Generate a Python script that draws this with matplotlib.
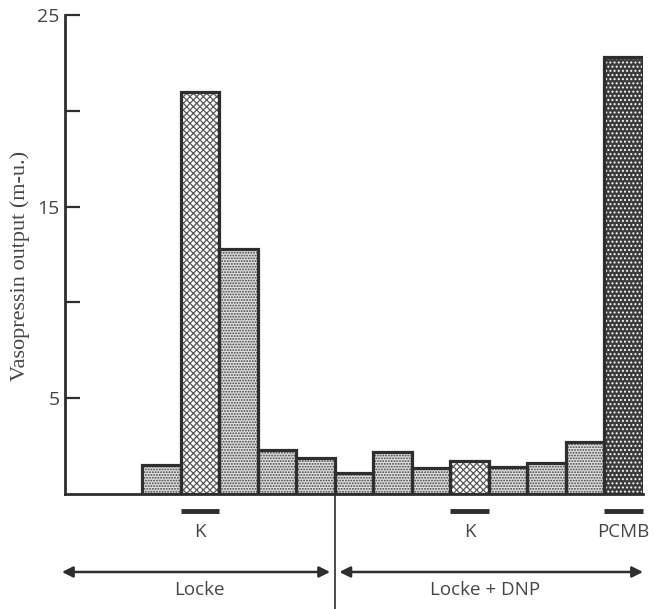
import matplotlib
matplotlib.use("Agg")
import matplotlib.pyplot as plt
from matplotlib.patches import FancyArrowPatch

# ---- data ----
values = [1.5, 21.0, 12.8, 2.3, 1.9, 1.1, 2.2, 1.35, 1.7, 1.42, 1.6, 2.7, 22.8]
fill_types = ['stipple', 'cross', 'stipple', 'stipple', 'stipple', 'stipple',
              'stipple', 'stipple', 'cross', 'stipple', 'stipple', 'stipple', 'dense']
stim_bars = [1, 8, 12]
stim_labels = ['K', 'K', 'PCMB']
phase_labels = ['Locke', 'Locke + DNP']
yticks = [5, 10, 15, 20, 25]
ytick_labels = ['5', '', '15', '', '25']
ylabel = 'Vasopressin output (m-u.)'

# ---- layout ----
W, H = 653, 609
fig = plt.figure(figsize=(W / 100, H / 100), dpi=100)
ax = fig.add_axes([65 / W, 115 / H, 578 / W, 479 / H])
ax.set_xlim(0, 15)
ax.set_ylim(0, 25)

plt.rcParams['hatch.linewidth'] = 0.9
ink = '#2e2e2e'
txt = '#454545'
styles = {
    'stipple': dict(face='#e0e0e0', hatch='......', hcol='#3f3f3f'),
    'cross': dict(face='white', hatch='xxxxx', hcol='#5a5a5a'),
    'dense': dict(face='#3c3c3c', hatch='....', hcol='white'),
}
offset = 2.5
for i, (v, ft) in enumerate(zip(values, fill_types)):
    st = styles[ft]
    x = i + offset
    ax.bar(x, v, width=1, color=st['face'], hatch=st['hatch'],
           edgecolor=st['hcol'], linewidth=0, zorder=2)
    ax.bar(x, v, width=1, fill=False, edgecolor=ink, linewidth=2.3, zorder=3)

for s in ['top', 'right']:
    ax.spines[s].set_visible(False)
for s in ['left', 'bottom']:
    ax.spines[s].set_color(ink)
    ax.spines[s].set_linewidth(2.0)
ax.set_xticks([])
ax.set_yticks(yticks)
ax.set_yticklabels(ytick_labels, fontfamily='Open Sans', fontsize=14, color=txt)
ax.tick_params(axis='y', direction='in', length=11, width=1.6, color=ink, pad=4)
ax.set_xlabel('')

fig.text(20 / W, 1 - 266 / H, ylabel, rotation=90, ha='center', va='center',
         fontfamily='Liberation Serif', fontsize=16, color=txt)

# stimulus bars and labels
for b, lab in zip(stim_bars, stim_labels):
    x = b + offset
    ax.plot([x - 0.5, x + 0.5], [-0.9, -0.9], color=ink, lw=3.5,
            solid_capstyle='butt', clip_on=False)
    ax.text(x, -2.0, lab, ha='center', va='center', fontfamily='Open Sans',
            fontsize=13.5, color=txt, clip_on=False)

# divider line
div_x = 5 + offset - 0.5
ax.plot([div_x, div_x], [0, -6.0], color=ink, lw=1.2, clip_on=False)

# phase arrows
y_arr = -4.07
for (x0, x1) in [(-0.08, div_x - 0.12), (div_x + 0.12, 15.0)]:
    a = FancyArrowPatch((x0, y_arr), (x1, y_arr), arrowstyle='<|-|>',
                        mutation_scale=16, color=ink, lw=1.8, clip_on=False,
                        shrinkA=0, shrinkB=0)
    ax.add_patch(a)

ax.text(3.5, -5.0, phase_labels[0], ha='center', va='center', fontfamily='Open Sans',
        fontsize=13.5, color=txt, clip_on=False)
ax.text(10.9, -5.0, phase_labels[1], ha='center', va='center', fontfamily='Open Sans',
        fontsize=13.5, color=txt, clip_on=False)

fig.savefig('out.png', dpi=100, facecolor='white')
